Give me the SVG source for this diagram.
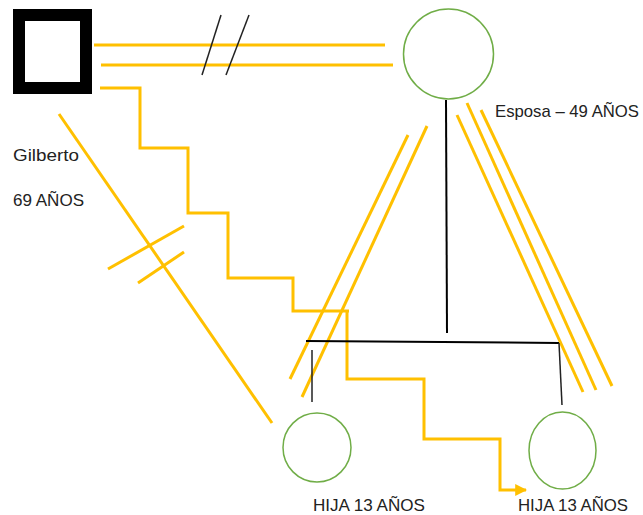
<svg xmlns="http://www.w3.org/2000/svg" width="643" height="515" viewBox="0 0 643 515">
  <defs>
    <style>
      .rel { stroke: #FFC000; stroke-width: 3; fill: none; stroke-linecap: butt; }
      .kin { stroke: #000; stroke-width: 2; fill: none; }
      .thin { stroke: #222; stroke-width: 1.5; fill: none; }
      .fem { stroke: #70AD47; stroke-width: 1.5; fill: #fff; }
      .lbl { font-family: "Liberation Sans", Arial, sans-serif; font-size: 17px; fill: #222; }
    </style>
    <marker id="arrow" viewBox="0 0 10 10" refX="9" refY="5" markerWidth="4" markerHeight="4" orient="auto">
      <path d="M0,0 L10,5 L0,10 z" fill="#FFC000"/>
    </marker>
  </defs>
  <rect width="643" height="515" fill="#fff"/>

  <!-- relationship lines -->
  <g id="connectors">
    <!-- marriage (divorced) -->
    <line class="rel" x1="94" y1="45" x2="385" y2="45"/>
    <line class="rel" x1="101" y1="65" x2="393" y2="65"/>
    <line class="thin" x1="221" y1="15" x2="202" y2="75"/>
    <line class="thin" x1="249" y1="15" x2="226" y2="75"/>
    <!-- stepped line to daughter -->
    <polyline class="rel" marker-end="url(#arrow)" points="100,88 140,88 140,148 188,148 188,213 228,213 228,278 293,278 293,311 349,311 347,311 347,379 424,379 424,439 500,439 500,490 526,490"/>
    <!-- broken link from Gilberto -->
    <line class="rel" x1="59" y1="114" x2="272" y2="423"/>
    <line class="rel" x1="108" y1="269" x2="184" y2="226"/>
    <line class="rel" x1="138" y1="283" x2="184" y2="252"/>
    <!-- double line wife to left daughter -->
    <line class="rel" x1="408" y1="135" x2="290" y2="379"/>
    <line class="rel" x1="427" y1="126" x2="302" y2="397"/>
    <!-- triple line wife to right daughter -->
    <line class="rel" x1="457" y1="115" x2="583" y2="392"/>
    <line class="rel" x1="467" y1="103" x2="596" y2="390"/>
    <line class="rel" x1="481" y1="110" x2="612" y2="386"/>
    <!-- descent lines -->
    <line class="kin" x1="446" y1="100" x2="447" y2="333"/>
    <line class="kin" x1="306" y1="341" x2="559" y2="343"/>
    <line class="thin" x1="312" y1="350" x2="312" y2="402"/>
    <line class="thin" x1="559" y1="343" x2="562" y2="405"/>
  </g>

  <g id="gilberto">
    <rect x="19" y="15" width="67" height="73" fill="#fff" stroke="#000" stroke-width="12"/>
    <text class="lbl" x="13" y="161" textLength="66" lengthAdjust="spacingAndGlyphs">Gilberto</text>
    <text class="lbl" x="13" y="206" textLength="71" lengthAdjust="spacingAndGlyphs">69 AÑOS</text>
  </g>

  <g id="esposa">
    <circle class="fem" cx="448.5" cy="54" r="45"/>
    <text class="lbl" x="495" y="117" textLength="144" lengthAdjust="spacingAndGlyphs">Esposa – 49 AÑOS</text>
  </g>

  <g id="hija1">
    <ellipse class="fem" cx="317" cy="447.5" rx="34" ry="34.5"/>
    <text class="lbl" x="313" y="511" textLength="112" lengthAdjust="spacingAndGlyphs">HIJA 13 AÑOS</text>
  </g>

  <g id="hija2">
    <ellipse class="fem" cx="562.5" cy="450.5" rx="33.5" ry="38.5"/>
    <text class="lbl" x="518" y="511" textLength="110" lengthAdjust="spacingAndGlyphs">HIJA 13 AÑOS</text>
  </g>
</svg>
